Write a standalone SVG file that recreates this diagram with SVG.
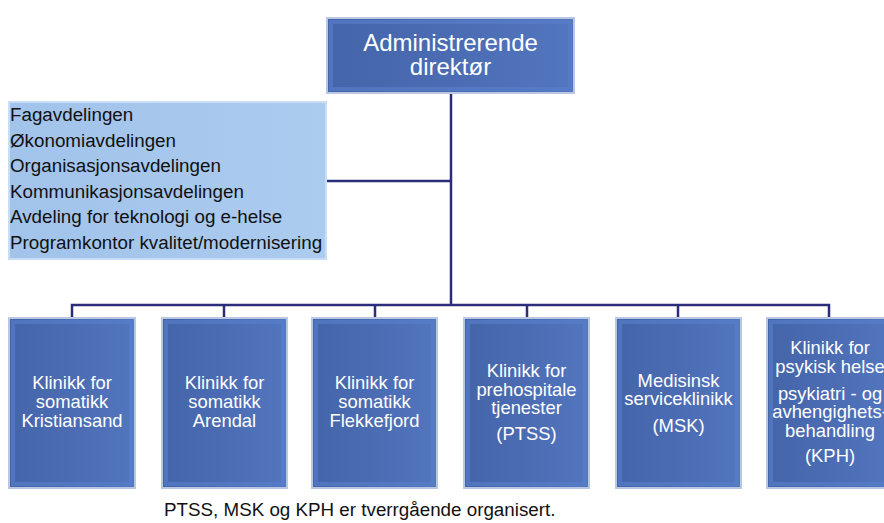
<svg xmlns="http://www.w3.org/2000/svg" width="884" height="523" viewBox="0 0 884 523">
<defs>
<linearGradient id="gBlue" x1="0" y1="0" x2="1" y2="0">
<stop offset="0" stop-color="#4565AA"/>
<stop offset="0.5" stop-color="#4B6CB3"/>
<stop offset="1" stop-color="#5276BF"/>
</linearGradient>
<linearGradient id="gLight" x1="0" y1="0" x2="1" y2="0">
<stop offset="0" stop-color="#A2C3EA"/>
<stop offset="1" stop-color="#ABCBEF"/>
</linearGradient>
<style>
.box{fill:url(#gBlue);stroke:#B9C7E3;stroke-width:2}
.bev{fill:none;stroke:#5B81CD;stroke-width:4;opacity:0.55}
.lbox{fill:url(#gLight);stroke:#C9DEF4;stroke-width:2}
.wt{font-family:"Liberation Sans",Arial,sans-serif;fill:#FFFFFF;text-anchor:middle;font-size:18.4px}
.bt{font-family:"Liberation Sans",Arial,sans-serif;fill:#111111;font-size:18.8px}
.con{fill:none;stroke:#2B2D78;stroke-width:2.5}
</style>
</defs>
<rect width="884" height="523" fill="#FFFFFF"/>

<g id="connectors">
<path class="con" d="M451 93 V305"/>
<path class="con" d="M326 181 H451"/>
<path class="con" d="M72 318 V305 H829 V318"/>
<path class="con" d="M224 305 V318 M375 305 V318 M527 305 V318 M678 305 V318"/>
</g>

<g id="adm">
<rect class="box" x="327" y="18" width="247" height="75"/>
<rect class="bev" x="331" y="22" width="239" height="67"/>
<text class="wt" style="font-size:24px" x="450.5" y="51">Administrerende</text>
<text class="wt" style="font-size:24px" x="450.5" y="75">direktør</text>
</g>

<g id="staff">
<rect class="lbox" x="9" y="102" width="317" height="157"/>
<text class="bt" x="10" y="121">Fagavdelingen</text>
<text class="bt" x="10" y="147">Økonomiavdelingen</text>
<text class="bt" x="10" y="172">Organisasjonsavdelingen</text>
<text class="bt" x="10" y="198">Kommunikasjonsavdelingen</text>
<text class="bt" x="10" y="223">Avdeling for teknologi og e-helse</text>
<text class="bt" x="10" y="249">Programkontor kvalitet/modernisering</text>
</g>

<g id="k1">
<rect class="box" x="9" y="318" width="126" height="170"/>
<rect class="bev" x="13" y="322" width="118" height="162"/>
<text class="wt" x="72" y="389">Klinikk for</text>
<text class="wt" x="72" y="408">somatikk</text>
<text class="wt" x="72" y="427">Kristiansand</text>
</g>

<g id="k2">
<rect class="box" x="162" y="318" width="125" height="170"/>
<rect class="bev" x="166" y="322" width="117" height="162"/>
<text class="wt" x="224.5" y="389">Klinikk for</text>
<text class="wt" x="224.5" y="408">somatikk</text>
<text class="wt" x="224.5" y="427">Arendal</text>
</g>

<g id="k3">
<rect class="box" x="312" y="318" width="125" height="170"/>
<rect class="bev" x="316" y="322" width="117" height="162"/>
<text class="wt" x="374.5" y="389">Klinikk for</text>
<text class="wt" x="374.5" y="408">somatikk</text>
<text class="wt" x="374.5" y="427">Flekkefjord</text>
</g>

<g id="k4">
<rect class="box" x="464" y="318" width="125" height="170"/>
<rect class="bev" x="468" y="322" width="117" height="162"/>
<text class="wt" x="526.5" y="377">Klinikk for</text>
<text class="wt" x="526.5" y="396">prehospitale</text>
<text class="wt" x="526.5" y="414">tjenester</text>
<text class="wt" x="526.5" y="440">(PTSS)</text>
</g>

<g id="k5">
<rect class="box" x="616" y="318" width="125" height="170"/>
<rect class="bev" x="620" y="322" width="117" height="162"/>
<text class="wt" x="678.5" y="387">Medisinsk</text>
<text class="wt" x="678.5" y="405">serviceklinikk</text>
<text class="wt" x="678.5" y="432">(MSK)</text>
</g>

<g id="k6">
<rect class="box" x="767" y="318" width="126" height="170"/>
<rect class="bev" x="771" y="322" width="118" height="162"/>
<text class="wt" x="830" y="354">Klinikk for</text>
<text class="wt" x="830" y="373">psykisk helse</text>
<text class="wt" x="830" y="400">psykiatri - og</text>
<text class="wt" x="830" y="418">avhengighets-</text>
<text class="wt" x="830" y="437">behandling</text>
<text class="wt" x="830" y="462">(KPH)</text>
</g>

<text id="note" class="bt" x="164" y="516">PTSS, MSK og KPH er tverrgående organisert.</text>
</svg>
